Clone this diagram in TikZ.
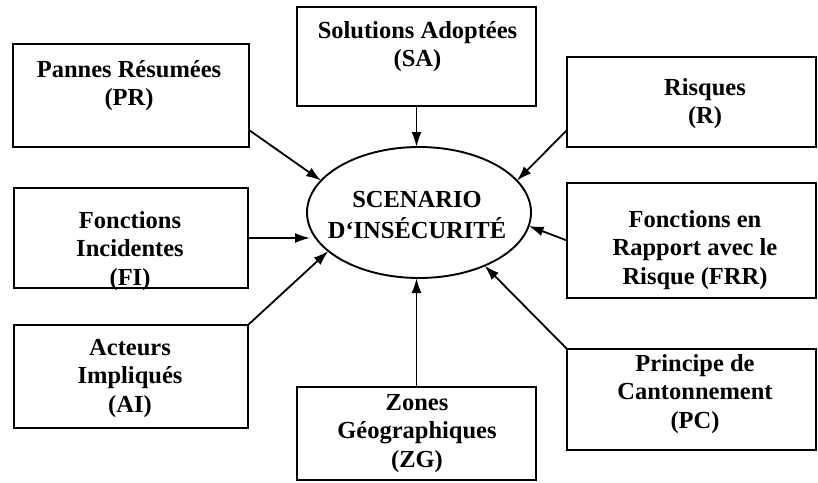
\documentclass[tikz,border=0pt]{standalone}
\usepackage{fontspec}
\setmainfont{Liberation Serif}
\usetikzlibrary{arrows.meta,shapes.geometric,calc}

\tikzset{
  box/.style={draw, line width=1.9pt, rectangle, inner sep=0pt, outer sep=0pt},
  oval/.style={draw, line width=1.9pt, ellipse, inner sep=0pt, outer sep=0pt,
               minimum width=224pt, minimum height=131pt},
  lbl/.style={align=center, inner sep=0pt, anchor=north,
              font=\fontsize{24.5}{28.5}\selectfont\bfseries},
  arr/.style={line width=1.8pt, -{Latex[length=15pt,width=10pt]}}
}

\begin{document}
\begin{tikzpicture}[x=1pt,y=-1pt]
  \useasboundingbox (0,0) rectangle (818,482);

  % central ellipse
  \node[oval] (sc) at (419,212.5) {};
  \node[lbl, font=\fontsize{24.5}{30}\selectfont\bfseries] (sc-t) at (417,186)
    {SCENARIO\strut\\D‘INSÉCURITÉ\strut};

  % surrounding boxes
  \node[box, minimum width=236pt, minimum height=103pt] (pr) at (131,95.5) {};
  \node[box, minimum width=239pt, minimum height=99pt]  (sa) at (416.5,56.5) {};
  \node[box, minimum width=249pt, minimum height=90pt]  (r)  at (691.5,102) {};
  \node[box, minimum width=234pt, minimum height=100pt] (fi) at (131,238) {};
  \node[box, minimum width=249pt, minimum height=115pt] (frr) at (691.5,240.5) {};
  \node[box, minimum width=234pt, minimum height=103pt] (ai) at (131,376.5) {};
  \node[box, minimum width=239pt, minimum height=93pt]  (zg) at (416.5,433.5) {};
  \node[box, minimum width=249pt, minimum height=101pt] (pc) at (691.5,399.5) {};

  % box texts
  \node[lbl] (pr-t)  at (129,57)   {Pannes Résumées\strut\\(PR)\strut};
  \node[lbl] (sa-t)  at (417.5,18) {Solutions Adoptées\strut\\(SA)\strut};
  \node[lbl] (r-t)   at (705,75)   {Risques\strut\\(R)\strut};
  \node[lbl] (fi-t)  at (130,208)  {Fonctions\strut\\Incidentes\strut\\(FI)\strut};
  \node[lbl] (frr-t) at (695,207)  {Fonctions en\strut\\Rapport avec le\strut\\Risque (FRR)\strut};
  \node[lbl] (ai-t)  at (130,335)  {Acteurs\strut\\Impliqués\strut\\(AI)\strut};
  \node[lbl] (zg-t)  at (417,390)  {Zones\strut\\Géographiques\strut\\(ZG)\strut};
  \node[lbl] (pc-t)  at (695,351)  {Principe de\strut\\Cantonnement\strut\\(PC)\strut};

  % connectors into the scenario
  \draw[arr] ($(pr.south east)+(0,-17)$) -- (sc.162);
  \draw[arr] (sa.south) -- (sa.south |- sc.north);
  \draw[arr] ($(r.south west)+(0,-17)$) -- (sc.18);
  \draw[arr] (fi.east) -- ($(fi.east -| sc.west)+(3,0)$);
  \draw[arr] (frr.west) -- (sc.353.6);
  \draw[arr] (ai.north east) -- (sc.203.3);
  \draw[arr] (zg.north) -- (zg.north |- sc.south);
  \draw[arr] (pc.north west) -- (sc.321.5);
\end{tikzpicture}
\end{document}
